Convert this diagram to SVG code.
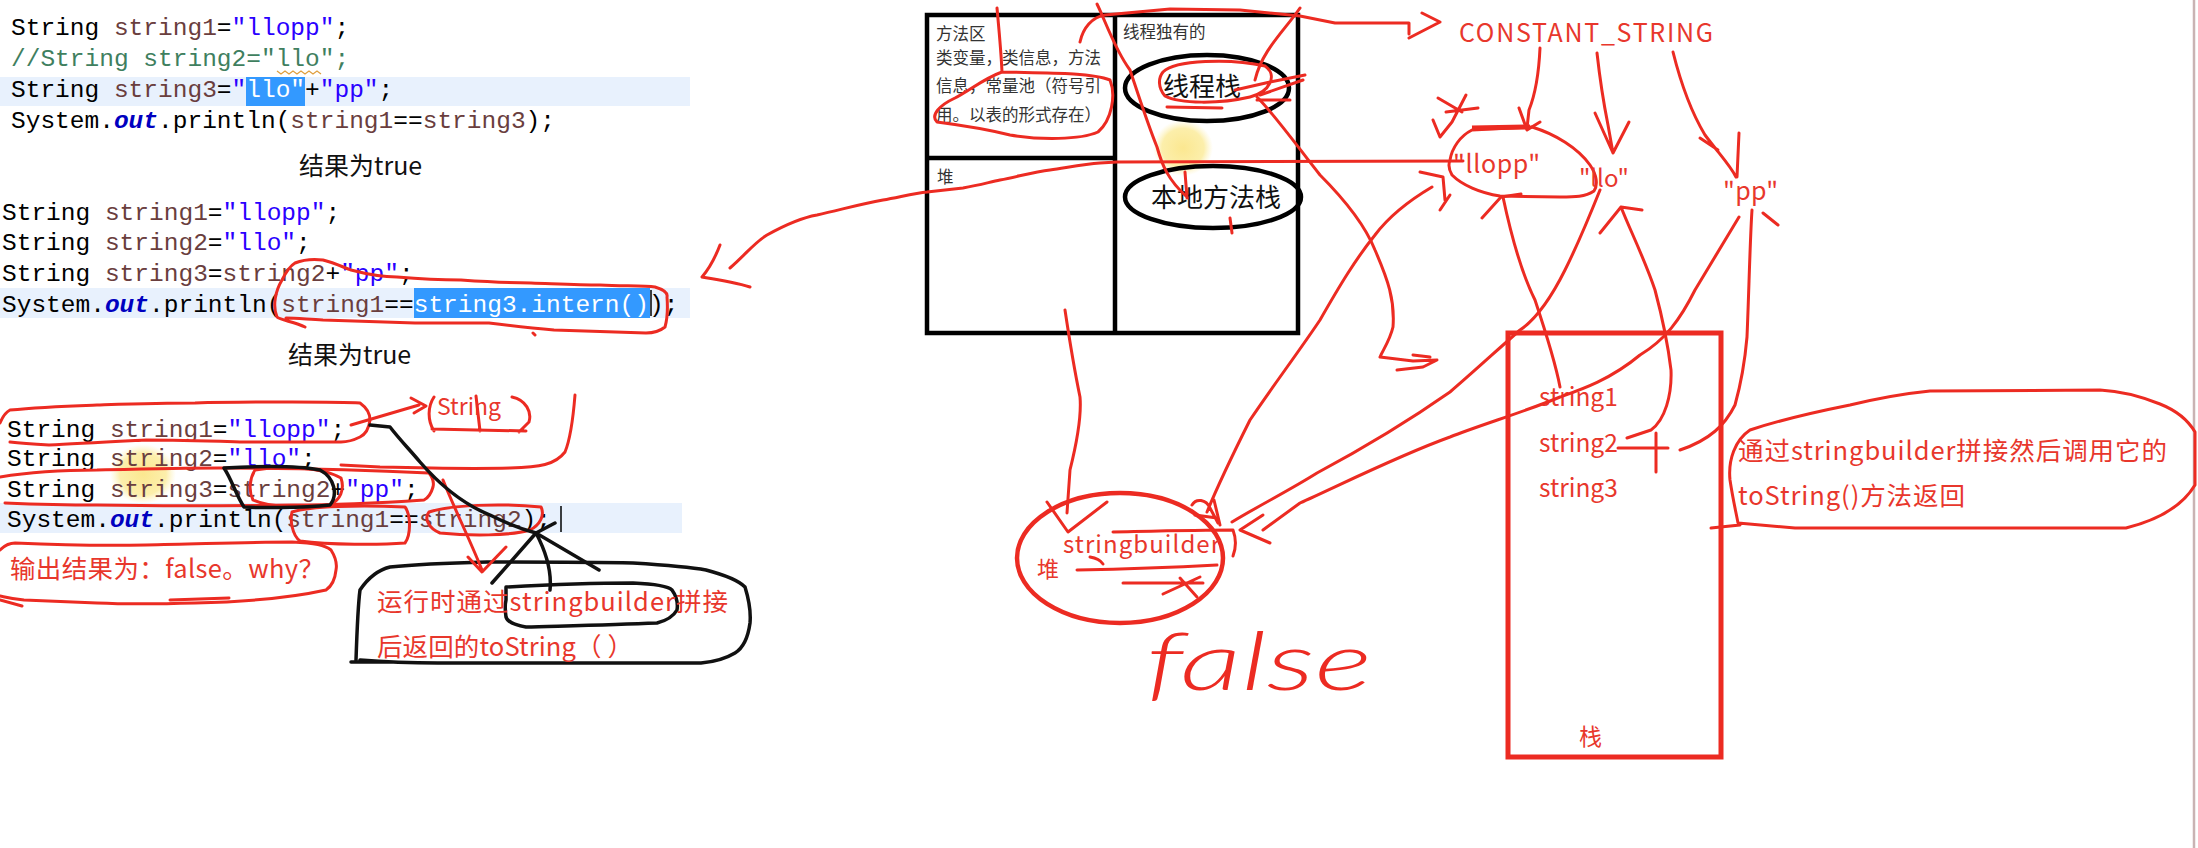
<svg xmlns="http://www.w3.org/2000/svg" width="2198" height="848" viewBox="0 0 2198 848">
<defs>
<radialGradient id="yel">
<stop offset="0" stop-color="#fbe68a" stop-opacity="0.95"/>
<stop offset="0.7" stop-color="#fbe98f" stop-opacity="0.75"/>
<stop offset="1" stop-color="#fdf0b0" stop-opacity="0"/>
</radialGradient>
<style>
.code{font-family:"Liberation Mono",monospace;font-size:24.5px;fill:#000;white-space:pre}
.v{fill:#6a3e3e}.s{fill:#2a00ff}.c{fill:#3f7f5f}.o{fill:#0000c0;font-weight:bold;font-style:italic}.w{fill:#fff}
.band{fill:#e8f1fd}.sel{fill:#3399ff}
.cn{font-family:"Noto Sans CJK SC","Noto Sans",sans-serif}
.res{font-size:25px;fill:#111}
.box{fill:none;stroke:#000;stroke-width:4.5}
.lbl{font-size:16.5px;fill:#333}
.rt{fill:#e8372c}
.r{fill:none;stroke:#ec2b22;stroke-width:3;stroke-linecap:round;stroke-linejoin:round}
.rb{fill:none;stroke:#ec2b22;stroke-width:4.5}
.k{fill:none;stroke:#111;stroke-width:3.5;stroke-linecap:round;stroke-linejoin:round}
</style>
</defs>
<rect width="2198" height="848" fill="#fff"/>
<line x1="2194" y1="0" x2="2194" y2="848" stroke="#c9b3b3" stroke-width="2.5"/>

<!-- code block 1 -->
<g id="code1">
<rect class="band" x="0" y="77" width="690" height="29"/>
<rect class="sel" x="246" y="77" width="59" height="29"/>
<text class="code" x="11" y="35" xml:space="preserve">String <tspan class="v">string1</tspan>=<tspan class="s">"llopp"</tspan>;</text>
<text class="code c" x="11" y="66" xml:space="preserve">//String string2="llo";</text>
<path d="M277,71 l4,3 l4,-3 l4,3 l4,-3 l4,3 l4,-3 l4,3 l4,-3 l4,3 l4,-3 l4,3" fill="none" stroke="#e0a040" stroke-width="1.3"/>
<text class="code" x="11" y="97" xml:space="preserve">String <tspan class="v">string3</tspan>=<tspan class="s">"</tspan><tspan class="w">llo"</tspan>+<tspan class="s">"pp"</tspan>;</text>
<text class="code" x="11" y="128" xml:space="preserve">System.<tspan class="o">out</tspan>.println(<tspan class="v">string1</tspan>==<tspan class="v">string3</tspan>);</text>
<text class="cn res" x="299" y="175">结果为true</text>
</g>

<!-- code block 2 -->
<g id="code2">
<rect class="band" x="0" y="288" width="690" height="30"/>
<rect class="sel" x="414" y="288" width="236" height="30"/>
<text class="code" x="2" y="220" xml:space="preserve">String <tspan class="v">string1</tspan>=<tspan class="s">"llopp"</tspan>;</text>
<text class="code" x="2" y="250" xml:space="preserve">String <tspan class="v">string2</tspan>=<tspan class="s">"llo"</tspan>;</text>
<text class="code" x="2" y="281" xml:space="preserve">String <tspan class="v">string3</tspan>=<tspan class="v">string2</tspan>+<tspan class="s">"pp"</tspan>;</text>
<text class="code" x="2" y="312" xml:space="preserve">System.<tspan class="o">out</tspan>.println(<tspan class="v">string1</tspan>==<tspan class="w">string3.intern()</tspan>);</text>
<line x1="651" y1="290" x2="651" y2="316" stroke="#000" stroke-width="1.5"/>
<text class="cn res" x="288" y="364">结果为true</text>
</g>

<!-- code block 3 -->
<g id="code3">
<rect class="band" x="0" y="503" width="682" height="30"/>
<ellipse cx="143" cy="474" rx="33" ry="30" fill="url(#yel)"/>
<text class="code" x="7" y="437" xml:space="preserve">String <tspan class="v">string1</tspan>=<tspan class="s">"llopp"</tspan>;</text>
<text class="code" x="7" y="466" xml:space="preserve">String <tspan class="v">string2</tspan>=<tspan class="s">"llo"</tspan>;</text>
<text class="code" x="7" y="497" xml:space="preserve">String <tspan class="v">string3</tspan>=<tspan class="v">string2</tspan>+<tspan class="s">"pp"</tspan>;</text>
<text class="code" x="7" y="527" xml:space="preserve">System.<tspan class="o">out</tspan>.println(<tspan class="v">string1</tspan>==<tspan class="v">string2</tspan>);</text>
<line x1="561" y1="506" x2="561" y2="532" stroke="#000" stroke-width="1.5"/>
</g>

<g id="why-note">
<text class="cn rt" x="10" y="578" font-size="25.5" textLength="314">输出结果为：false。why？</text>
<path class="r" d="M0,550 C5,545 10,543 15,543 C60,545 100,546 146,545 C200,544 250,542 292,542 C315,543 325,545 331,550 C336,558 337,565 336,570 C335,580 332,586 326,590 C290,598 240,602 195,603 C160,604 120,604 97,603 C70,602 45,601 24,600 C12,599 5,597 0,596"/>
<path class="r" d="M0,600 L22,606 M170,600 L229,598"/>
</g>

<g id="sb-note">
<path class="k" d="M356,660 C357,630 358,605 360,590 C368,578 378,570 390,567 C420,564 450,563 487,562 C540,562 590,562 633,563 C665,565 690,567 706,570 C725,575 738,580 745,587 C749,600 751,612 750,623 C748,638 743,648 735,653 C725,659 713,662 701,663 C620,663 520,663 438,663 C410,663 385,662 360,660 M351,662 L390,662"/>
<path class="k" d="M506,587 C560,584 600,583 633,583 C655,584 668,586 672,590 C677,597 678,604 677,610 C673,617 665,621 657,623 C610,625 560,626 526,627 C514,625 507,621 506,617 C505,610 505,604 506,600 Z"/>
<text class="cn rt" x="377" y="611" font-size="25.5" textLength="351">运行时通过stringbuilder拼接</text>
<text class="cn rt" x="377" y="656" font-size="25.5" textLength="256">后返回的toString（ ）</text>
</g>

<g id="string-note">
<text class="cn rt" x="437" y="415" font-size="23">String</text>
<path class="r" d="M434,397 C428,406 427,420 434,431 M512,397 C526,400 532,412 529,422 L519,432 M476,396 L480,431 M432,429 L526,431"/>
</g>

<!-- memory areas -->
<g id="memory-areas">
<ellipse cx="1183" cy="148" rx="30" ry="28" fill="url(#yel)"/>
<rect class="box" x="927" y="15" width="371" height="318"/>
<line class="box" x1="1115" y1="15" x2="1115" y2="333"/>
<line class="box" x1="927" y1="158" x2="1115" y2="158"/>
<g id="method-area">
<text class="cn lbl" x="936" y="40">方法区</text>
<text class="cn lbl" x="936" y="64">类变量，类信息，方法</text>
<text class="cn lbl" x="936" y="92">信息，常量池（符号引</text>
<text class="cn lbl" x="936" y="121">用。以表的形式存在）</text>
</g>
<g id="heap-area"><text class="cn lbl" x="937" y="183">堆</text></g>
<g id="thread-private">
<text class="cn lbl" x="1123" y="38" font-size="15.5">线程独有的</text>
</g>
<g id="thread-stack">
<ellipse cx="1207" cy="88" rx="82" ry="33" fill="none" stroke="#000" stroke-width="4.5"/>
<text class="cn" x="1202" y="96" font-size="26" text-anchor="middle" fill="#111">线程栈</text>
</g>
<g id="native-stack">
<ellipse cx="1213" cy="197" rx="88" ry="31" fill="none" stroke="#000" stroke-width="4.5"/>
<text class="cn" x="1216" y="207" font-size="26" text-anchor="middle" fill="#111">本地方法栈</text>
</g>
</g>

<!-- string pool -->
<g id="constant-string"><text class="cn rt" x="1459" y="42" font-size="25" textLength="254">CONSTANT_STRING</text></g>
<g id="str-llopp">
<path class="r" d="M1450,160 C1452,148 1460,136 1472,130 L1532,127 C1555,134 1578,148 1590,165 C1597,175 1598,185 1594,191 C1585,197 1575,197 1560,197 L1500,196 C1480,193 1462,185 1452,175 C1449,170 1448,165 1450,160 Z"/>
<path d="M1472,128 L1530,127" stroke="#ec2b22" stroke-width="5"/>
<text class="cn rt" x="1453" y="173" font-size="25" textLength="87">"llopp"</text>
</g>
<g id="str-llo"><text class="cn rt" x="1579" y="187" font-size="24" textLength="50">"llo"</text></g>
<g id="str-pp"><text class="cn rt" x="1723" y="200" font-size="25" textLength="55">"pp"</text></g>

<!-- stack -->
<g id="stack">
<rect x="1508" y="333" width="213" height="424" fill="none" stroke="#ec2b22" stroke-width="5"/>
<text class="cn rt" x="1539" y="406" font-size="24.5">string1</text>
<text class="cn rt" x="1539" y="452" font-size="24.5">string2</text>
<text class="cn rt" x="1539" y="497" font-size="24.5">string3</text>
<text class="cn rt" x="1579" y="745" font-size="23">栈</text>
</g>

<!-- callout -->
<g id="callout">
<path class="r" d="M1738,523 L1795,528 L2126,528 C2150,522 2180,510 2195,485 L2195,432 C2188,420 2175,410 2160,404 C2140,396 2120,391 2100,390 L1930,391 C1900,394 1875,399 1850,405 C1810,413 1780,420 1750,430 C1735,440 1728,460 1730,480 C1733,500 1736,512 1738,523 Z M1711,528 L1740,525"/>
<text class="cn rt" x="1738" y="460" font-size="25.5" textLength="429">通过stringbuilder拼接然后调用它的</text>
<text class="cn rt" x="1738" y="505" font-size="25.5" textLength="227">toString()方法返回</text>
</g>

<!-- heap stringbuilder -->
<g id="sb-heap">
<ellipse cx="1120" cy="558" rx="103" ry="65" class="rb"/>
<text class="cn rt" x="1063" y="553" font-size="24" textLength="157">stringbuilder</text>
<text class="cn rt" x="1037" y="577" font-size="22">堆</text>
<path class="r" d="M1077,570 C1130,569 1180,567 1217,565 M1123,583 L1203,583 M1163,594 L1200,577 M1180,578 L1197,597 M1090,557 C1096,558 1101,561 1103,564 M1113,532 C1160,531 1200,530 1233,530 C1236,538 1236,548 1233,556"/>
</g>

<g id="false-label">
<text x="1146" y="690" font-family="Lato, 'DejaVu Serif', serif" font-style="italic" font-weight="300" font-size="80" fill="#ec2b22" textLength="226" lengthAdjust="spacingAndGlyphs">false</text>
</g>

<!-- connectors -->
<g id="connectors">
<path class="r" d="M305,327 C295,322 280,320 277,317 C272,305 276,290 282,280 C286,272 290,266 295,263 C305,259 315,259 323,260 C335,263 345,268 351,270 C370,275 385,277 397,277 C420,279 440,280 461,280 C490,282 510,283 531,283 C560,284 580,285 600,285 C625,286 645,286 655,287 C665,290 668,293 667,297 C668,310 667,320 665,327 C660,331 652,333 646,333 C620,332 580,331 554,330 C530,328 505,325 489,323 C460,323 440,323 415,323 C380,322 350,321 323,320 C305,319 295,318 286,318 M533,333 L535,335"/>
<path class="r" d="M730,268 C745,255 755,242 767,235 C785,225 800,218 817,215 C840,210 860,204 883,200 C900,197 915,193 927,192 C945,190 955,189 963,188 C980,185 990,182 1000,180 C1020,176 1035,172 1050,170 C1070,167 1085,164 1100,163 L1117,162 L1463,161"/>
<path class="r" d="M720,245 C715,258 708,270 702,277 C715,279 735,282 750,287"/>
<path class="r" d="M0,423 C3,416 6,412 10,410 C40,407 70,406 97,405 C130,404 160,403 195,403 C230,402 260,402 292,402 C320,402 345,402 360,403 C367,408 370,414 370,420 C369,428 366,434 360,437 C354,440 348,442 341,442 C310,442 275,442 244,442 C210,441 180,440 146,440 C110,442 75,444 49,445 C30,444 18,443 10,442"/>
<path class="r" d="M0,477 C30,472 65,470 97,470 C140,469 180,468 219,468 C290,468 370,470 429,473 C433,478 434,483 433,487 C431,494 428,498 424,500 C380,503 330,505 292,505 C220,506 150,506 97,505 C60,505 30,504 5,503"/>
<path class="r" d="M292,512 C310,506 360,505 405,507 C411,515 411,535 405,543 C380,545 330,545 300,541 C292,535 290,520 292,512 Z"/>
<path class="r" d="M429,512 C450,505 500,503 541,507 C545,515 540,525 530,530 C510,536 470,536 440,533 C428,528 424,518 429,512 Z"/>
<path class="r" d="M255,470 C280,466 320,466 341,478 C345,490 340,500 330,505 C305,508 270,508 253,500 C248,490 250,478 255,470 Z"/>
<path class="k" d="M224,468 C260,466 300,466 320,470 C335,478 338,495 330,505 C300,508 260,508 244,507 C236,495 232,480 224,468 Z"/>
<path class="r" d="M575,395 C573,420 570,440 565,452 C555,465 540,467 510,468 C470,469 420,468 380,467 L341,465"/>
<path class="r" d="M443,480 C455,510 470,540 482,570 M468,557 L482,572 L506,547"/>
<path class="r" d="M351,425 L419,405 M411,398 L426,406 L414,413"/>
<path class="k" d="M370,425 L390,427 C400,440 410,450 420,462 C440,485 465,505 490,515 C510,525 525,530 536,533 L599,570 M536,533 C545,550 552,570 550,590 M536,533 L492,583 M536,533 L555,523"/>
<path class="r" d="M997,8 C999,30 1001,50 1002,72 C1040,73 1090,72 1110,80 C1116,95 1112,120 1098,132 C1080,140 1040,140 1010,135 C990,130 960,125 937,122 C930,115 940,105 955,98 C970,90 985,78 1002,72"/>
<path class="r" d="M1080,42 C1083,28 1092,17 1105,15 L1170,9 L1240,10 L1300,16 L1335,23 L1409,23 L1409,34 M1422,13 L1440,22 L1409,38"/>
<path class="r" d="M1097,4 C1105,20 1115,50 1130,70 C1140,100 1148,125 1157,147 C1162,165 1168,180 1187,197 M1185,172 L1187,198 M1230,218 L1232,233"/>
<path class="r" d="M1300,8 C1285,30 1262,50 1255,80 M1163,72 C1175,60 1230,58 1265,66 C1278,75 1270,92 1250,97 C1220,104 1180,104 1165,96 C1158,88 1158,78 1163,72 M1305,75 L1270,82 L1235,90 M1290,100 L1257,100 M1303,80 L1260,95 M1167,107 L1222,108"/>
<path class="r" d="M1257,97 C1275,115 1300,150 1320,175 C1345,200 1365,225 1375,250 C1388,280 1395,300 1393,327 C1390,340 1383,350 1380,357 L1413,361 L1437,360 L1423,367 L1397,370 M1413,355 L1430,357"/>
<path class="r" d="M1065,310 C1068,330 1073,363 1080,397 C1082,420 1075,450 1070,470 L1067,513 M1047,502 L1068,532 L1107,502"/>
<path class="r" d="M1540,48 C1539,70 1535,95 1529,110 L1527,128 M1519,108 L1527,130 L1540,122"/>
<path class="r" d="M1597,53 C1600,80 1605,110 1608,125 L1613,153 M1595,113 L1613,153 L1629,122"/>
<path class="r" d="M1673,52 C1680,80 1690,110 1705,135 C1720,155 1730,165 1736,177 M1700,138 L1718,150 M1739,133 L1737,177"/>
<path class="r" d="M1438,98 L1462,112 M1466,95 L1452,122 M1446,112 L1478,108 M1433,120 L1440,137 L1452,122 M1420,172 L1443,177 L1445,200 M1450,195 L1440,210"/>
<path class="r" d="M1503,197 C1510,230 1520,270 1535,300 C1545,330 1555,360 1560,387 M1482,218 L1501,197 L1521,194"/>
<path class="r" d="M1621,207 C1630,230 1645,260 1655,290 C1663,320 1668,345 1671,370 C1672,395 1665,420 1651,430 L1627,438 M1600,233 L1621,207 L1642,210 M1618,448 L1668,448 M1656,433 L1656,472"/>
<path class="r" d="M1752,210 C1750,240 1749,290 1747,337 C1745,360 1742,380 1735,405 C1725,425 1710,440 1680,450 M1763,213 L1778,225"/>
<path class="r" d="M1600,190 C1592,210 1580,240 1565,270 C1550,300 1535,320 1520,330 C1495,352 1470,375 1450,392 C1410,420 1360,450 1317,473 C1290,490 1260,505 1232,522"/>
<path class="r" d="M1739,217 C1725,240 1710,265 1695,290 C1680,320 1665,340 1640,355 C1610,380 1580,390 1560,397 C1530,410 1480,425 1450,437 C1400,455 1340,485 1300,503 L1263,530 M1263,515 L1240,530 L1270,543"/>
<path class="r" d="M1432,187 C1410,200 1390,215 1375,235 C1355,260 1340,285 1320,320 C1300,350 1270,390 1250,420 C1235,450 1220,480 1207,512 M1192,505 C1196,498 1206,499 1210,508 L1218,523 M1195,515 L1217,518 M1214,500 L1220,525"/>
</g>
</svg>
